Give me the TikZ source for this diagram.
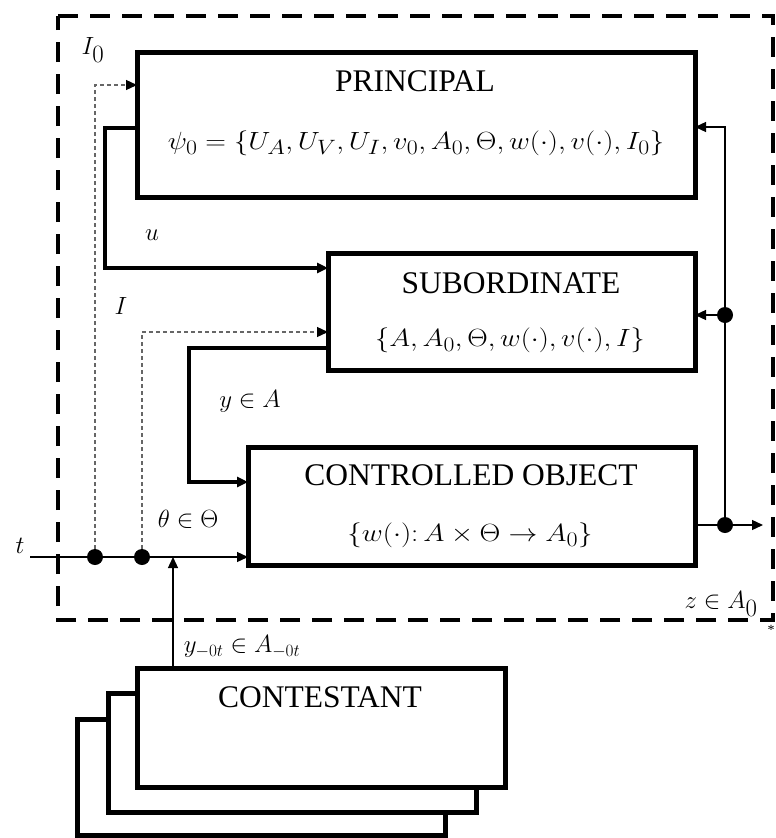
\documentclass[tikz,border=0pt]{standalone}
\usepackage{fontspec}
\setmainfont{Liberation Serif}
\usetikzlibrary{arrows.meta}
\begin{document}
\begin{tikzpicture}[x=1pt,y=-1pt,
  blockbox/.style={draw,line width=5pt,fill=white,inner sep=0pt},
  boxtext/.style={font=\fontsize{31.5}{36}\selectfont},
  mathtext/.style={font=\fontsize{32}{36}\selectfont},
  labtext/.style={font=\fontsize{34}{38}\selectfont},
  heavy/.style={line width=3.5pt,-{Triangle[length=11pt,width=10pt]}},
  thin/.style={line width=1.3pt,-{Triangle[length=11pt,width=10pt]}},
  dots/.style={line width=1.3pt,gray!80!black,dash pattern=on 4pt off 3pt,-{Triangle[length=11pt,width=10pt,color=black]}},
  junction/.style={circle,fill=black,inner sep=0pt,minimum size=16pt},
  outer/.style={line width=4pt,dash pattern=on 20pt off 12pt}]
\useasboundingbox (0,0) rectangle (776,838);
% outer dashed border
\draw[outer] (58,16) -- (773,16) -- (773,620) -- (58,620) -- cycle;
% boxes
\node[blockbox,minimum width=558pt,minimum height=145pt] (princ) at (416,124.5) {};
\node[blockbox,minimum width=367pt,minimum height=117pt] (sub) at (511.5,311.5) {};
\node[blockbox,minimum width=447pt,minimum height=118pt] (ctrl) at (471.5,506) {};
\node[blockbox,minimum width=368pt,minimum height=116pt] (cback) at (261,777) {};
\node[blockbox,minimum width=368pt,minimum height=119pt] (cmid) at (292,752.5) {};
\node[blockbox,minimum width=368pt,minimum height=119pt] (cfront) at (321,727.5) {};
% box texts
\node[boxtext] (ptitle) at (415,81) {PRINCIPAL};
\node[mathtext] (pform) at (416,143) {\scalebox{1.15}[1]{$\psi_0=\{U_A,U_V,U_I,v_0,A_0,\Theta,w(\cdot),v(\cdot),I_0\}$}};
\node[boxtext] (stitle) at (511,283) {SUBORDINATE};
\node[mathtext] (sform) at (510,340) {\scalebox{1.14}[1]{$\{A,A_0,\Theta,w(\cdot),v(\cdot),I\}$}};
\node[boxtext] (ctitle) at (471,475) {CONTROLLED OBJECT};
\node[mathtext] (cform) at (470,535) {\scalebox{1.16}[1]{$\{w(\cdot)\colon A\times\Theta\to A_0\}$}};
\node[boxtext] (contitle) at (320,697) {CONTESTANT};
% junctions
\coordinate (tstart) at (30,557);
\node[junction] (d1) at (95,557) {};
\node[junction] (d2) at (142,557) {};
\node[junction] (d3) at (725,525) {};
\node[junction] (d4) at (725,315) {};
\coordinate (pin) at (137,85);
\coordinate (iin) at (328,332);
\coordinate (uout) at (137,128);
\coordinate (uin) at (328,268);
\coordinate (yout) at (328,348);
\coordinate (yin) at (248,482);
\coordinate (tin) at (248,557);
\coordinate (cout) at (695,525);
\coordinate (zend) at (763,525);
\coordinate (fbp) at (695,127);
\coordinate (fbs) at (695,315);
\coordinate (contop) at (173,668);
\coordinate (conin) at (173,557);
% connectors
\draw[thin] (tstart) -- (tin);
\draw[dots] (d1) |- (pin);
\draw[dots] (d2) |- (iin);
\draw[heavy] (uout) -- (105,128) |- (uin);
\draw[heavy] (yout) -- (189,348) |- (yin);
\draw[thin] (contop) -- (conin);
\draw[thin] (cout) -- (zend);
\draw[thin] (d3) |- (fbp);
\draw[thin] (d4) -- (fbs);
% labels
\node[labtext] (lI0) at (93,50) {$I_0$};
\node[labtext] (lu) at (152,235) {$u$};
\node[labtext] (lI) at (121,306) {$I$};
\node[labtext] (ly) at (250,401) {$y\in A$};
\node[labtext] (lth) at (188,519) {$\theta\in\Theta$};
\node[labtext] (lt) at (20,546) {$t$};
\node[labtext] (lz) at (721,604) {$z\in A_0$};
\node[font=\fontsize{25}{28}\selectfont] (lyc) at (242,647) {$y_{-0t}\in A_{-0t}$};
\node[font=\fontsize{14}{16}\selectfont] (star) at (771,630) {*};
\end{tikzpicture}
\end{document}
